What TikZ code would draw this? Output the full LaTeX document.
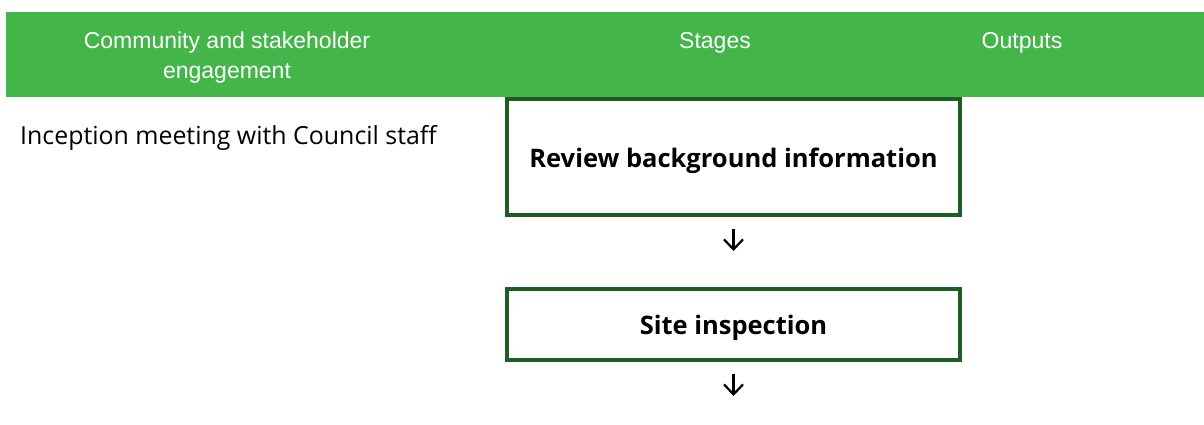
\documentclass[tikz,border=0pt]{standalone}
\usepackage{fontspec}
\usetikzlibrary{arrows.meta}
\newfontfamily\hdrfont{Liberation Sans}
\newfontfamily\bodyfont{Open Sans}
\definecolor{hdrgreen}{RGB}{67,181,73}
\definecolor{boxgreen}{RGB}{31,92,36}
\tikzset{
  hdrtext/.style={text=white, font=\hdrfont\fontsize{23}{30}\selectfont, align=center, anchor=base, inner sep=0pt},
  stagebox/.style={draw=boxgreen, line width=4pt, minimum width=453pt, inner sep=0pt, text height=20pt, text depth=0pt, font=\bodyfont\bfseries\fontsize{25.5}{30}\selectfont},
  flowarrow/.style={line width=2.2pt, -{Straight Barb[length=10pt, width=19pt, line width=2.2pt]}},
  plaintext/.style={font=\bodyfont\fontsize{24.9}{30}\selectfont, anchor=base west, inner sep=0pt}
}
\begin{document}
\begin{tikzpicture}[x=1pt,y=-1pt]
\useasboundingbox (0,0) rectangle (1204,425);
\fill[white] (0,0) rectangle (1204,425);
\node[stagebox, minimum height=116pt] (review) at (733.5,157) {Review background information};
\node[stagebox, minimum height=71pt] (site) at (733.5,324.5) {Site inspection};
\fill[hdrgreen] (6,12) rectangle (1204,97);
\node[hdrtext] (hcomm) at (227,79) {Community and stakeholder\\engagement};
\node[hdrtext] (hstage) at (715,49) {Stages};
\node[hdrtext] (hout) at (1022,49) {Outputs};
\node[plaintext] (incep) at (20,144) {Inception meeting with Council staff};
\coordinate (next) at (733.5,396);
\draw[flowarrow, shorten <=12pt, shorten >=36pt] (review.south) -- (site.north);
\draw[flowarrow, shorten <=12pt] (site.south) -- (next);
\end{tikzpicture}
\end{document}
